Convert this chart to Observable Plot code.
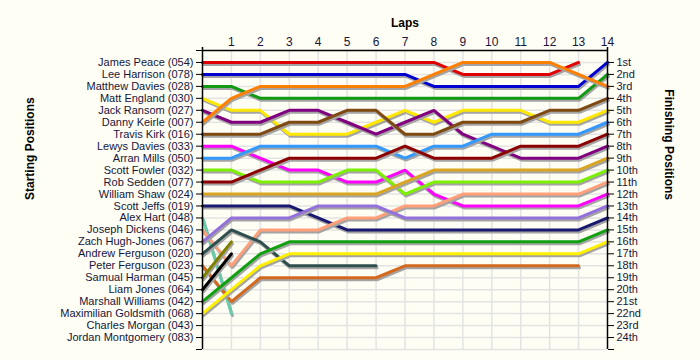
<!DOCTYPE html>
<html>
<head>
<meta charset="utf-8">
<script src="https://cdn.jsdelivr.net/npm/d3@7"></script>
<script src="https://cdn.jsdelivr.net/npm/@observablehq/plot@0.6"></script>
<style>
  html, body { margin: 0; padding: 0; background: #fffef4; }
  #chart { width: 700px; height: 360px; }
</style>
</head>
<body>
<div id="chart"></div>
<script>
// Drivers in starting order
const startNames = [
  "James Peace (054)", "Lee Harrison (078)", "Matthew Davies (028)", "Matt England (030)",
  "Jack Ransom (027)", "Danny Keirle (007)", "Travis Kirk (016)", "Lewys Davies (033)",
  "Arran Mills (050)", "Scott Fowler (032)", "Rob Sedden (077)", "William Shaw (024)",
  "Scott Jeffs (019)", "Alex Hart (048)", "Joseph Dickens (046)", "Zach Hugh-Jones (067)",
  "Andrew Ferguson (020)", "Peter Ferguson (023)", "Samual Harman (045)", "Liam Jones (064)",
  "Marshall Williams (042)", "Maximilian Goldsmith (068)", "Charles Morgan (043)", "Jordan Montgomery (083)"
];
const finishLabels = [
  "1st","2nd","3rd","4th","5th","6th","7th","8th","9th","10th","11th","12th",
  "13th","14th","15th","16th","17th","18th","19th","20th","21st","22nd","23rd","24th"
];
const lapTicks = [1,2,3,4,5,6,7,8,9,10,11,12,13,14];

// Position per lap (lap 0 = grid), one array per driver
const jamesPeace          = [1,1,1,1,1,1,1,1,1,2,2,2,2,1];
const leeHarrison         = [2,2,2,2,2,2,2,2,3,3,3,3,3,3,1];
const matthewDavies       = [3,3,4,4,4,4,4,4,4,4,4,4,4,4,2];
const mattEngland         = [4,5,5,7,7,7,6,5,6,5,5,5,6,6,5];
const jackRansom          = [5,6,6,5,5,6,7,6,5,7,8,9,9,9,8];
const dannyKeirle         = [6,4,3,3,3,3,3,3,2,1,1,1,1,2,3];
const travisKirk          = [7,7,7,6,6,5,5,7,7,6,6,6,5,5,4];
const lewysDavies         = [8,8,9,10,10,11,11,10,12,13,13,13,13,13,12];
const arranMills          = [9,9,8,8,8,8,8,9,8,8,7,7,7,7,6];
const scottFowler         = [10,10,11,11,11,10,10,12,11,11,11,11,11,11,10];
const robSedden           = [11,11,10,9,9,9,9,8,9,9,9,8,8,8,7];
const williamShaw         = [12,12,12,12,12,12,12,11,10,10,10,10,10,10,9];
const scottJeffs          = [13,13,13,13,14,15,15,15,15,15,15,15,15,15,14];
const alexHart            = [14,22];
const josephDickens       = [15,18,15,15,15,14,14,13,13,12,12,12,12,12,11];
const zachHughJones       = [16,14,14,14,13,13,13,14,14,14,14,14,14,14,13];
const andrewFerguson      = [17,15,16,18,18,18,18];
const peterFerguson       = [18,21,19,19,19,19,19,18,18,18,18,18,18,18];
const samualHarman        = [19,16];
const liamJones           = [20,17];
const marshallWilliams    = [21,19,17,16,16,16,16,16,16,16,16,16,16,16,15];
const maximilianGoldsmith = [22,20,18,17,17,17,17,17,17,17,17,17,17,17,16];
const charlesMorgan       = [];
const jordanMontgomery    = [];

const driverPositions = [
  jamesPeace, leeHarrison, matthewDavies, mattEngland, jackRansom, dannyKeirle, travisKirk,
  lewysDavies, arranMills, scottFowler, robSedden, williamShaw, scottJeffs, alexHart,
  josephDickens, zachHughJones, andrewFerguson, peterFerguson, samualHarman, liamJones,
  marshallWilliams, maximilianGoldsmith, charlesMorgan, jordanMontgomery
];

const lineColors = [
  "#e00000", "#0000d0", "#129a12", "#ffe800", "#800080", "#ff8000", "#7f4a12",
  "#ff00ff", "#3399ff", "#7cf000", "#8b0000", "#daa520", "#191970", "#66cdaa",
  "#ffa07a", "#9370db", "#2f4f4f", "#d2691e", "#808000", "#000000",
  "#10a010", "#fff000", "#999999", "#999999"
];

const rows = startNames.flatMap((name, i) =>
  driverPositions[i].map((pos, lap) => ({driver: name, lap, pos}))
);

const lineMarks = startNames.flatMap((name, i) => {
  const d = rows.filter(r => r.driver === name);
  if (d.length === 0) return [];
  return [
    Plot.line(d, {x: "lap", y: "pos", stroke: "#a4a4a4", strokeWidth: 3, dx: 1, dy: 2, strokeLinejoin: "miter"}),
    Plot.line(d, {x: "lap", y: "pos", stroke: "driver", strokeWidth: 3, strokeLinejoin: "miter"})
  ];
});

const textColor = "#15153c";

const chart = Plot.plot({
  width: 700,
  height: 360,
  marginLeft: 202,
  marginRight: 93,
  marginTop: 50,
  marginBottom: 11,
  style: {background: "#fffef4", fontFamily: "'Liberation Sans', Arial, sans-serif", fontSize: "11px", overflow: "visible"},
  x: {domain: [0, 14]},
  y: {domain: [0, 25], reverse: true},
  color: {domain: startNames, range: lineColors},
  marks: [
    Plot.gridX({ticks: d3.range(1, 14), stroke: "#e3e3e3", strokeOpacity: 1, strokeWidth: 1.5}),
    Plot.gridY({ticks: d3.range(1, 26), stroke: "#e3e3e3", strokeOpacity: 1, strokeWidth: 1.5}),
    ...lineMarks,
    Plot.ruleX([0, 14], {y1: -0.25, y2: 25, stroke: "black", strokeWidth: 1.5}),
    Plot.ruleY([0], {x1: 0, x2: 14, stroke: "black", strokeWidth: 1.5}),
    Plot.axisX({anchor: "top", ticks: lapTicks, tickSize: 0, tickPadding: 5, label: null, fill: textColor, fontSize: 12}),
    Plot.axisY({anchor: "left", ticks: d3.range(0, 26), tickSize: 6, tickPadding: 3, label: null,
      tickFormat: d => startNames[d - 1] ?? "", fill: textColor, stroke: "black"}),
    Plot.axisY({anchor: "right", ticks: d3.range(1, 26), tickSize: 6, tickPadding: 3, label: null,
      tickFormat: d => finishLabels[d - 1] ?? "", fill: textColor, stroke: "black", fontSize: 11}),
    Plot.text(["Laps"], {text: d => d, frameAnchor: "top", dy: -32, fontWeight: "bold", fontSize: 12, fill: "black"}),
    Plot.text(["Starting Positions"], {text: d => d, frameAnchor: "left", dx: -172, rotate: -90, fontWeight: "bold", fontSize: 12, fill: "black"}),
    Plot.text(["Finishing Positions"], {text: d => d, frameAnchor: "right", dx: 61, rotate: 90, fontWeight: "bold", fontSize: 12, fill: "black"})
  ]
});
document.getElementById("chart").appendChild(chart);
</script>
</body>
</html>
